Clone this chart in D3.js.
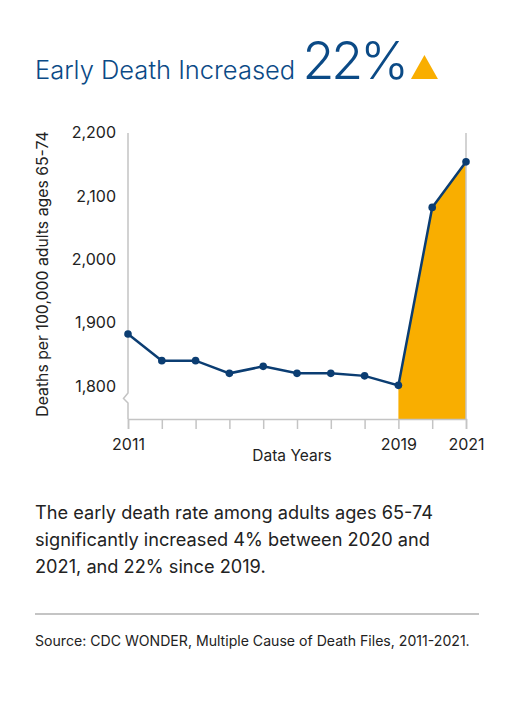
<!DOCTYPE html>
<html>
<head>
<meta charset="utf-8">
<script src="https://cdn.jsdelivr.net/npm/d3@7"></script>
<style>
  body { margin: 0; background: #fff; }
  svg text { font-family: "Inter", "Lato", sans-serif; }
</style>
</head>
<body>
<svg id="chart"></svg>
<script>
// Données
const years = [2011, 2012, 2013, 2014, 2015, 2016, 2017, 2018, 2019, 2020, 2021];
const rates = [1882, 1840, 1840, 1820, 1831, 1820, 1820, 1816, 1801, 2082, 2154];
const yTicks = [1800, 1900, 2000, 2100, 2200];
const labelledYears = [2011, 2019, 2021];
const highlightFrom = 2019;

const width = 525;
const height = 713;
const navy = "#0b3d72";
const orange = "#f9ae00";
const grey = "#c4c4c4";

const svg = d3.select("#chart")
    .attr("width", width)
    .attr("height", height);

// Titre
const title = svg.append("text")
    .attr("x", 35)
    .attr("y", 79)
    .attr("fill", "#0b4a86");
title.append("tspan")
    .attr("font-size", "25.5px")
    .attr("font-weight", 300)
    .text("Early Death Increased ");
title.append("tspan")
    .attr("font-size", "52px")
    .attr("font-weight", 300)
    .attr("letter-spacing", "-3px")
    .text("22%");

// Echelles
const x = d3.scaleLinear().domain([2011, 2021]).range([128, 466]);
const y = d3.scaleLinear().domain([1800, 2200]).range([386, 132.7]);
const baseY = 419;
const topY = 133;

// Triangle après le titre
const titleBox = title.node().getBBox();
const tx = titleBox.x + titleBox.width + 5;
svg.append("path")
    .attr("d", `M${tx},79 L${tx + 27},79 L${tx + 13.5},55 Z`)
    .attr("fill", orange);

// Zone orange depuis 2019
const hiData = years.map((yr, i) => ({ yr, v: rates[i] })).filter(d => d.yr >= highlightFrom);
svg.append("path")
    .datum(hiData)
    .attr("fill", orange)
    .attr("d", d3.area()
        .x(d => x(d.yr))
        .y0(baseY)
        .y1(d => y(d.v)));

// Axe Y avec coupure
svg.append("path")
    .attr("fill", "none")
    .attr("stroke", grey)
    .attr("stroke-width", 1.5)
    .attr("d", `M128,${topY} L128,393 L123.5,398.5 L128,403 L128,${baseY}`);

// Ligne verticale de droite
svg.append("line")
    .attr("x1", x(2021)).attr("x2", x(2021))
    .attr("y1", topY).attr("y2", baseY)
    .attr("stroke", grey)
    .attr("stroke-width", 1.5);

// Axe X
const xAxis = svg.append("g")
    .attr("transform", `translate(0,${baseY})`)
    .call(d3.axisBottom(x)
        .tickValues(years)
        .tickSize(10)
        .tickFormat(d => labelledYears.includes(d) ? d : ""));
xAxis.select(".domain").attr("stroke", grey).attr("stroke-width", 1.5);
xAxis.selectAll(".tick line").attr("stroke", grey).attr("stroke-width", 1.5);
xAxis.selectAll(".tick text")
    .attr("y", 20)
    .attr("font-size", "16px")
    .attr("fill", "#222")
    .style("font-family", "Inter, Lato, sans-serif");

// Libellés de l'axe Y
svg.append("g")
    .selectAll("text")
    .data(yTicks)
    .enter().append("text")
    .attr("x", 116)
    .attr("y", d => y(d))
    .attr("dy", "0.35em")
    .attr("text-anchor", "end")
    .attr("font-size", "16px")
    .attr("fill", "#222")
    .text(d => d3.format(",")(d));

// Titre de l'axe Y
svg.append("text")
    .attr("transform", "translate(48,274) rotate(-90)")
    .attr("text-anchor", "middle")
    .attr("font-size", "15.8px")
    .attr("fill", "#222")
    .text("Deaths per 100,000 adults ages 65-74");

// Titre de l'axe X
svg.append("text")
    .attr("x", 292)
    .attr("y", 461)
    .attr("text-anchor", "middle")
    .attr("font-size", "15.5px")
    .attr("fill", "#222")
    .text("Data Years");

// Ligne et points
const series = years.map((yr, i) => ({ yr, v: rates[i] }));
svg.append("path")
    .datum(series)
    .attr("fill", "none")
    .attr("stroke", navy)
    .attr("stroke-width", 2.5)
    .attr("d", d3.line().x(d => x(d.yr)).y(d => y(d.v)));

svg.append("g")
    .selectAll("circle")
    .data(series)
    .enter().append("circle")
    .attr("cx", d => x(d.yr))
    .attr("cy", d => y(d.v))
    .attr("r", 3.8)
    .attr("fill", navy);

// Texte explicatif
const para = [
    "The early death rate among adults ages 65-74",
    "significantly increased 4% between 2020 and",
    "2021, and 22% since 2019."
];
svg.append("g")
    .selectAll("text")
    .data(para)
    .enter().append("text")
    .attr("x", 35)
    .attr("y", (d, i) => 519 + i * 27)
    .attr("font-size", "18.2px")
    .attr("fill", "#222")
    .text(d => d);

// Séparateur
svg.append("line")
    .attr("x1", 35).attr("x2", 479)
    .attr("y1", 614).attr("y2", 614)
    .attr("stroke", grey)
    .attr("stroke-width", 2);

// Source
svg.append("text")
    .attr("x", 35)
    .attr("y", 646)
    .attr("font-size", "14.1px")
    .attr("fill", "#222")
    .text("Source: CDC WONDER, Multiple Cause of Death Files, 2011-2021.");
</script>
</body>
</html>
